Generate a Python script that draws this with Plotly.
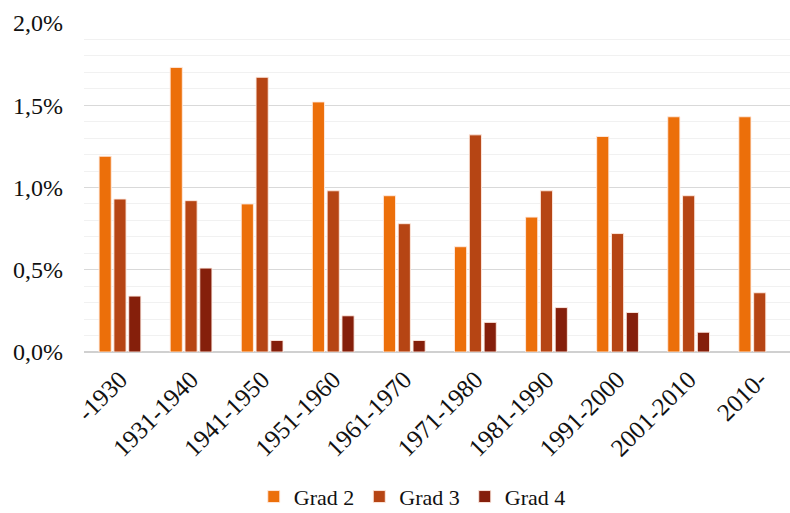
import plotly.graph_objects as go

# Share of buildings per construction period, by damage grade (in %)
periods = ["-1930", "1931-1940", "1941-1950", "1951-1960", "1961-1970",
           "1971-1980", "1981-1990", "1991-2000", "2001-2010", "2010-"]
grad2 = [1.19, 1.73, 0.90, 1.52, 0.95, 0.64, 0.82, 1.31, 1.43, 1.43]
grad3 = [0.93, 0.92, 1.67, 0.98, 0.78, 1.32, 0.98, 0.72, 0.95, 0.36]
grad4 = [0.34, 0.51, 0.07, 0.22, 0.07, 0.18, 0.27, 0.24, 0.12, None]

series = [
    ("Grad 2", grad2, "#EC6F0A"),
    ("Grad 3", grad3, "#B64514"),
    ("Grad 4", grad4, "#851F0B"),
]

fig = go.Figure()
for name, vals, color in series:
    fig.add_trace(go.Bar(
        x=periods, y=vals, name=name,
        marker=dict(color=color, line=dict(color="rgba(255,235,225,0.9)", width=1)),
    ))

font_family = "Liberation Serif"
text_color = "#111111"

fig.update_layout(
    width=790, height=513,
    margin=dict(l=84, r=0, t=23, b=161, autoexpand=False),
    paper_bgcolor="white", plot_bgcolor="white",
    barmode="group", bargap=0.375, bargroupgap=0.18,
    separators=", ",
    font=dict(family=font_family, size=24, color=text_color),
    showlegend=True,
    legend=dict(
        orientation="h", x=0.465, xanchor="center", y=-0.44, yanchor="middle",
        font=dict(family=font_family, size=22, color=text_color),
        itemwidth=30, traceorder="normal",
        bgcolor="rgba(0,0,0,0)",
    ),
    xaxis=dict(
        range=[-0.506, 9.426], automargin=False,
        tickangle=-45, showgrid=False, showline=False, zeroline=False,
        ticks="", ticklabelstandoff=7,
        tickfont=dict(family=font_family, size=25, color=text_color),
    ),
    yaxis=dict(
        range=[0, 2.0], dtick=0.5, tickformat=".1f", ticksuffix="%",
        automargin=False,
        showgrid=True, gridcolor="#d9d9d9", gridwidth=1,
        zeroline=True, zerolinecolor="#d0d0d0", zerolinewidth=1.5,
        showline=False, ticks="", ticklabelstandoff=20,
        tickfont=dict(family=font_family, size=24, color=text_color),
        minor=dict(dtick=0.1, showgrid=True, gridcolor="#f1f1f1", gridwidth=1),
    ),
)

fig.write_html("out.html")
